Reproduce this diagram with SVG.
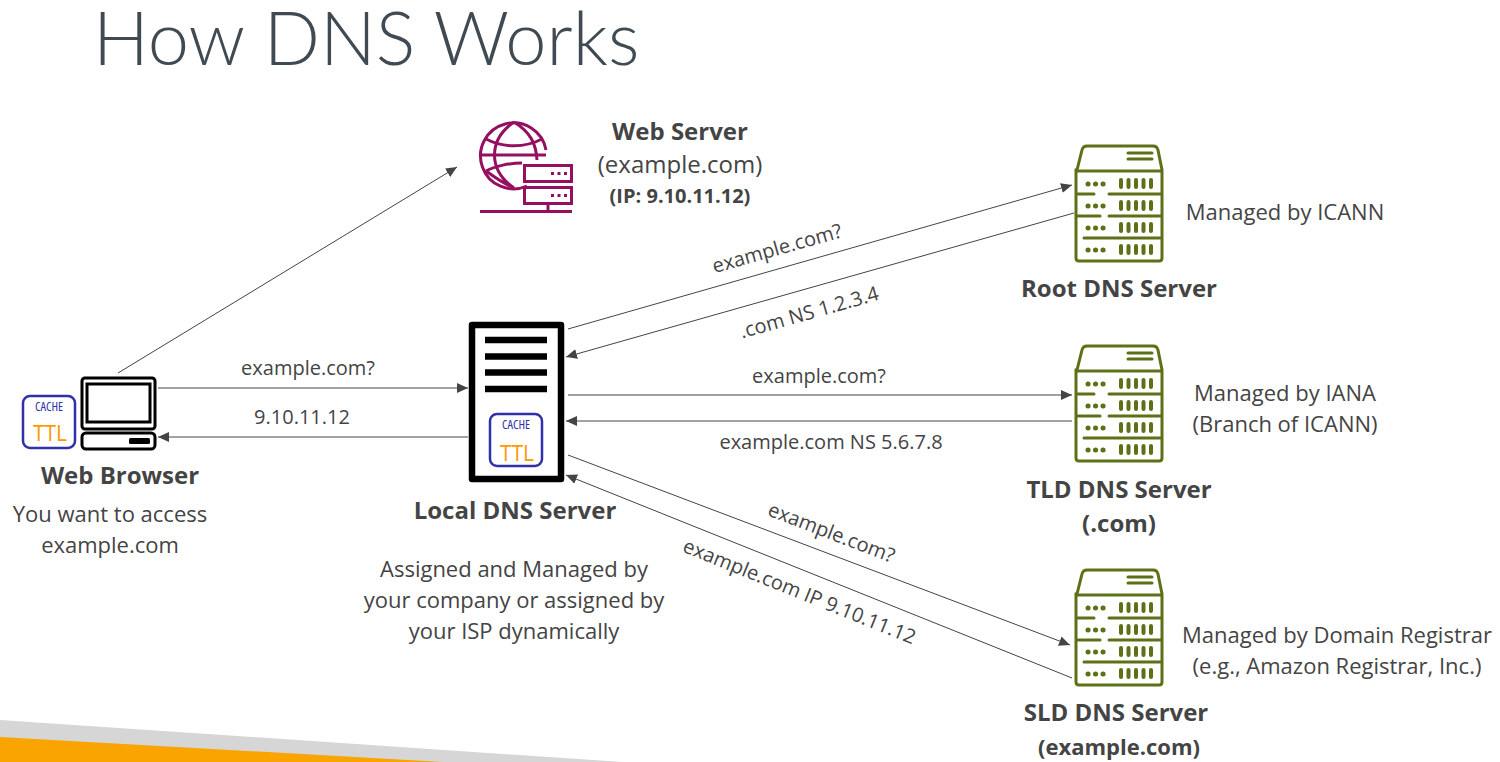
<svg xmlns="http://www.w3.org/2000/svg" xmlns:xlink="http://www.w3.org/1999/xlink" width="1500" height="762" viewBox="0 0 1500 762">
<style>
text{font-family:"Open Sans","Liberation Sans",sans-serif;fill:#444;text-anchor:middle}
.t{font-size:22px}
.b{font-size:24px;font-weight:700}
.l{font-size:20px}
.title{font-family:Lato,"Liberation Sans",sans-serif;font-weight:300;font-size:74px;fill:#3f4a52;text-anchor:start}
.c{stroke:#444;stroke-width:1;fill:none;marker-end:url(#a)}
.cache{font-size:12.5px;fill:#3030a8;font-stretch:condensed}
.ttl{font-size:21px;fill:#f90}
.cb{fill:#fff;stroke:#3030a8;stroke-width:2.5}
.g{fill:none;stroke:#5c7017;stroke-width:3;stroke-linecap:round}
.gd{fill:none;stroke:#5c7017;stroke-width:5;stroke-linecap:round;stroke-dasharray:.1 7.4}
.gb{fill:none;stroke:#5c7017;stroke-width:4;stroke-linecap:round}
.m{fill:none;stroke:#940f5f;stroke-width:3}
.k{fill:#fff;stroke:#000}
</style>
<defs>
<marker id="a" markerUnits="userSpaceOnUse" markerWidth="12" markerHeight="10" refX="11" refY="5" orient="auto"><path d="M0,0 L11,5 L0,10 Z" fill="#444"/></marker>
<g id="srv">
<path class="g" d="M1077,170 L1082,150 Q1083,146 1087,146 H1153 Q1157,146 1158,150 L1162,170 V258 Q1162,261 1159,261 H1079 Q1076,261 1076,258 V170 Z"/>
<path class="g" d="M1077,171 H1161 M1128,153 H1152 M1128,159 H1152 M1078,194 H1094 M1109,194 H1161 M1078,216 H1100 M1109,216 H1161 M1084,238 H1161"/>
<path class="gd" d="M1088,184 H1104 M1088,206 H1104 M1088,228 H1104 M1088,250 H1104"/>
<path class="gb" d="M1121,180 V187 M1128.500,180 V187 M1136,180 V187 M1143.500,180 V187 M1151,180 V187 M1121,202 V209 M1128.500,202 V209 M1136,202 V209 M1143.500,202 V209 M1151,202 V209 M1121,224 V231 M1128.500,224 V231 M1136,224 V231 M1143.500,224 V231 M1151,224 V231 M1121,246 V253 M1128.500,246 V253 M1136,246 V253 M1143.500,246 V253 M1151,246 V253"/>
</g>
</defs>
<rect width="1500" height="762" fill="#fff"/>
<path d="M0,720 L623,762 H0 Z" fill="#d6d6d6"/>
<path d="M0,737 L443,762 H0 Z" fill="#f9a400"/>
<text class="title" x="93" y="65">How DNS Works</text>

<g id="connectors">
<path class="c" d="M118,373 L457,167"/>
<path class="c" d="M158,388 H468"/>
<path class="c" d="M468,437 H158"/>
<path class="c" d="M568,329 L1072,185"/>
<path class="c" d="M1074,213 L566,357"/>
<path class="c" d="M568,395 H1072"/>
<path class="c" d="M1072,421 H566"/>
<path class="c" d="M568,455 L1070,645"/>
<path class="c" d="M1072,678 L566,475"/>
<text class="l" x="308" y="375">example.com?</text>
<text class="l" x="302" y="424">9.10.11.12</text>
<text class="l" x="819" y="383">example.com?</text>
<text class="l" x="831" y="449">example.com NS 5.6.7.8</text>
<text class="l" transform="translate(779,255) rotate(-15.800)">example.com?</text>
<text class="l" transform="translate(811,319) rotate(-15.800)">.com NS 1.2.3.4</text>
<text class="l" transform="translate(829,539) rotate(21)">example.com?</text>
<text class="l" transform="translate(797,598) rotate(22)">example.com IP 9.10.11.12</text>
</g>

<g id="web-browser">
<rect class="cb" x="23" y="396" width="52" height="52" rx="7"/>
<text class="cache" x="49" y="411">CACHE</text>
<text class="ttl" x="50" y="441">TTL</text>
<rect class="k" x="82" y="378" width="73" height="51" rx="3" stroke-width="3"/>
<rect class="k" x="87" y="384" width="63" height="38" stroke-width="3"/>
<rect class="k" x="82" y="433" width="73" height="16" rx="4" stroke-width="3"/>
<rect x="129" y="438" width="21" height="6" rx="1.500" fill="#000"/>
<text class="b" x="120" y="484">Web Browser</text>
<text class="t" x="110" y="522">You want to access</text>
<text class="t" x="110" y="553">example.com</text>
</g>

<g id="web-server">
<path class="m" d="M527,186 A33,33 0 1 1 546,150"/>
<path class="m" d="M514,122 C488,140 488,170 514,188 M514,122 C530,132 536,143 537,160 M486,139 C503,148 525,148 542,139 M481,155 H546 M486,171 C495,166 510,163 522,163 M486,171 C493,176 502,183 514,188"/>
<rect class="m" x="524.500" y="165.500" width="47" height="16"/>
<rect class="m" x="524.500" y="187.500" width="47" height="16"/>
<path class="m" d="M480,211.500 H572 M548,203 V211"/>
<path d="M551,173.500 H567 M551,195.500 H567" fill="none" stroke="#940f5f" stroke-width="3" stroke-dasharray="3 3.500"/>
<text class="b" x="680" y="140">Web Server</text>
<text x="680" y="173" style="font-size:24px">(example.com)</text>
<text x="680" y="203" style="font-size:20px;font-weight:700">(IP: 9.10.11.12)</text>
</g>

<g id="local-dns-server">
<rect x="472" y="325" width="89" height="154" fill="#fff" stroke="#000" stroke-width="6.500" stroke-linejoin="round"/>
<path d="M485,340 H547 M485,356.500 H547 M485,372.500 H547 M485,389 H547" stroke="#000" stroke-width="6.500" fill="none"/>
<rect class="cb" x="490" y="414" width="52" height="52" rx="7"/>
<text class="cache" x="516" y="429">CACHE</text>
<text class="ttl" x="517" y="461">TTL</text>
<text class="b" x="515" y="519">Local DNS Server</text>
<text class="t" x="514" y="577">Assigned and Managed by</text>
<text class="t" x="514" y="608">your company or assigned by</text>
<text class="t" x="514" y="639">your ISP dynamically</text>
</g>

<g id="root-dns-server">
<use xlink:href="#srv" href="#srv"/>
<text class="t" x="1285" y="220">Managed by ICANN</text>
<text class="b" x="1119" y="297">Root DNS Server</text>
</g>
<g id="tld-dns-server">
<use xlink:href="#srv" href="#srv" y="200"/>
<text class="t" x="1285" y="401">Managed by IANA</text>
<text class="t" x="1285" y="432">(Branch of ICANN)</text>
<text class="b" x="1119" y="498">TLD DNS Server</text>
<text class="b" x="1119" y="532">(.com)</text>
</g>
<g id="sld-dns-server">
<use xlink:href="#srv" href="#srv" y="424"/>
<text class="t" x="1337" y="643">Managed by Domain Registrar</text>
<text class="t" x="1337" y="674">(e.g., Amazon Registrar, Inc.)</text>
<text class="b" x="1116" y="721">SLD DNS Server</text>
<text x="1119" y="755" style="font-size:22px;font-weight:700">(example.com)</text>
</g>
</svg>
